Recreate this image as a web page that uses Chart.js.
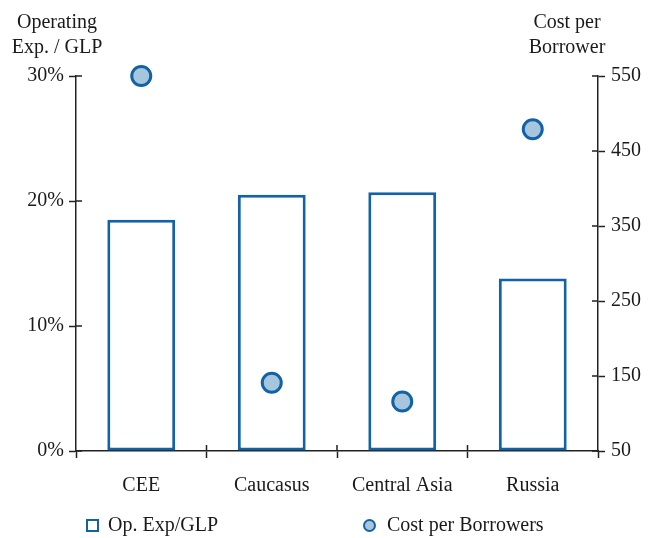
<!DOCTYPE html>
<html>
<head>
<meta charset="utf-8">
<script src="https://cdn.jsdelivr.net/npm/chart.js@4/dist/chart.umd.min.js"></script>
<style>
  body { margin: 0; background: #fff; }
  #wrap { position: relative; width: 648px; height: 538px; font-family: "Liberation Serif", serif; color: #1a1a1a; font-size: 20px; }
  .ttl { position: absolute; text-align: center; line-height: 25px; }
  .leg { position: absolute; top: 513px; white-space: nowrap; }
  .sq { position: absolute; width: 9px; height: 9px; border: 2.5px solid #1262a6; background: #fff; }
  .dot { position: absolute; width: 9px; height: 9px; border: 2.5px solid #1262a6; background: #a6c6de; border-radius: 50%; }
</style>
</head>
<body>
<div id="wrap">
  <canvas id="chart"></canvas>
  <div class="ttl" style="left:2px; top:9px; width:110px;">Operating<br>Exp. / GLP</div>
  <div class="ttl" style="left:512px; top:9px; width:110px;">Cost per<br>Borrower</div>
  <div class="sq" style="left:86px; top:519px;"></div>
  <div class="leg" style="left:108px;">Op. Exp/GLP</div>
  <div class="dot" style="left:363px; top:519px;"></div>
  <div class="leg" style="left:387px;">Cost per Borrowers</div>
</div>
<script>
const regions = ['CEE', 'Caucasus', 'Central Asia', 'Russia'];
const opExpGlp = [18.5, 20.5, 20.7, 13.8];
const costPerBorrower = [550, 141, 116, 479];

const blue = '#1262a6';
const lightBlue = '#a6c6de';
const axisColor = '#222';

// ticks that cross the axis: Chart.js draws the outer half, this adds the inner half
const innerTicks = {
  id: 'innerTicks',
  afterDatasetsDraw(chart) {
    const ctx = chart.ctx;
    const { x, y, y2 } = chart.scales;
    ctx.save();
    ctx.strokeStyle = axisColor;
    ctx.lineWidth = 1.5;
    ctx.beginPath();
    y.ticks.forEach((t, i) => {
      const py = y.getPixelForTick(i);
      ctx.moveTo(y.right, py); ctx.lineTo(y.right + 6, py);
    });
    y2.ticks.forEach((t, i) => {
      const py = y2.getPixelForTick(i);
      ctx.moveTo(y2.left, py); ctx.lineTo(y2.left - 6, py);
    });
    for (let i = 1; i < regions.length; i++) {
      const px = (x.getPixelForValue(i - 1) + x.getPixelForValue(i)) / 2;
      ctx.moveTo(px, x.top); ctx.lineTo(px, x.top - 6);
    }
    ctx.stroke();
    ctx.restore();
  }
};

const font = { family: 'Liberation Serif', size: 20 };

new Chart(document.getElementById('chart'), {
  data: {
    labels: regions,
    datasets: [
      {
        type: 'scatter',
        label: 'Cost per Borrowers',
        data: costPerBorrower.map((v, i) => ({ x: regions[i], y: v })),
        yAxisID: 'y2',
        pointRadius: 9.5,
        pointBorderWidth: 3,
        backgroundColor: lightBlue,
        borderColor: blue,
        clip: false,
        order: 0
      },
      {
        type: 'bar',
        label: 'Op. Exp/GLP',
        data: opExpGlp,
        yAxisID: 'y',
        backgroundColor: '#fff',
        borderColor: blue,
        borderWidth: 3,
        borderSkipped: false,
        barPercentage: 0.52,
        categoryPercentage: 1,
        order: 1
      }
    ]
  },
  options: {
    responsive: true,
    maintainAspectRatio: false,
    animation: false,
    layout: { padding: { top: 76, left: 0, right: 0, bottom: 0 } },
    plugins: { legend: { display: false }, tooltip: { enabled: false } },
    scales: {
      x: {
        type: 'category',
        offset: true,
        grid: { offset: true, drawOnChartArea: false, tickLength: 7, tickColor: axisColor, tickWidth: 1.5 },
        border: { color: axisColor, width: 1.5 },
        ticks: { color: '#1a1a1a', font, padding: 16, maxRotation: 0 },
        afterFit: s => { s.height = 87; }
      },
      y: {
        position: 'left',
        min: 0, max: 30,
        grid: { drawOnChartArea: false, tickLength: 7, tickColor: axisColor, tickWidth: 1.5 },
        border: { color: axisColor, width: 1.5 },
        ticks: { stepSize: 10, color: '#1a1a1a', font, padding: 5, callback: v => v + '%' },
        afterFit: s => { s.width = 76; }
      },
      y2: {
        position: 'right',
        min: 50, max: 550,
        grid: { drawOnChartArea: false, tickLength: 7, tickColor: axisColor, tickWidth: 1.5 },
        border: { color: axisColor, width: 1.5 },
        ticks: { stepSize: 100, color: '#1a1a1a', font, padding: 6 },
        afterFit: s => { s.width = 50; }
      }
    }
  },
  plugins: [innerTicks]
});
</script>
</body>
</html>
